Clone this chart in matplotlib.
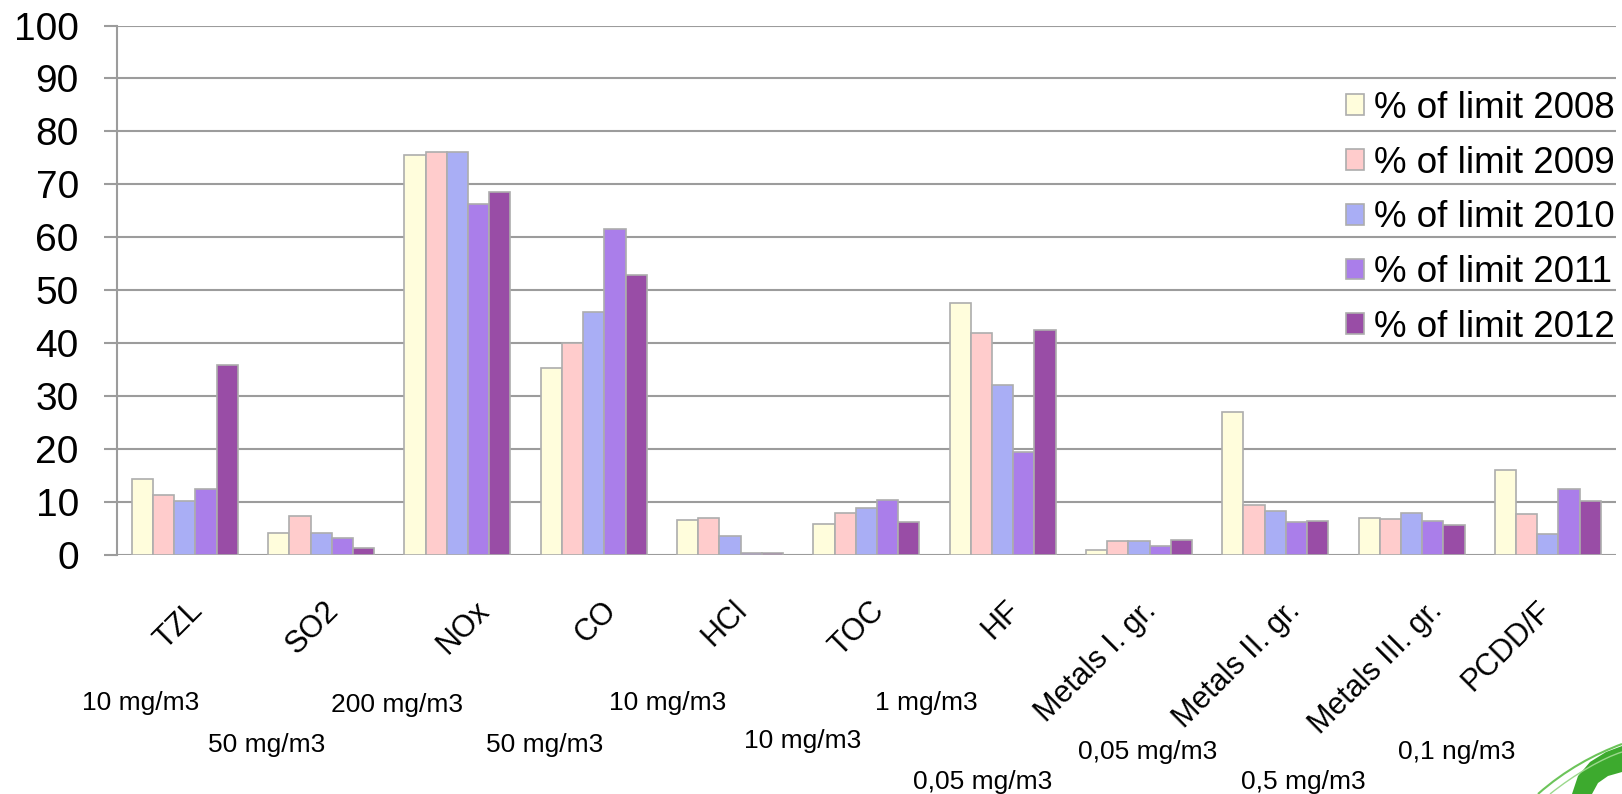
import matplotlib
matplotlib.use("Agg")
import matplotlib.pyplot as plt
import matplotlib.transforms as mtransforms
from matplotlib.patches import Polygon
from matplotlib.path import Path
from matplotlib.patches import PathPatch
import numpy as np

plt.rcParams['font.family'] = ['Liberation Sans', 'DejaVu Sans']

# ---------------- data ----------------
categories = ["TZL", "SO2", "NOx", "CO", "HCl", "TOC", "HF",
              "Metals I. gr.", "Metals II. gr.", "Metals III. gr.", "PCDD/F"]
limits = ["10 mg/m3", "50 mg/m3", "200 mg/m3", "50 mg/m3", "10 mg/m3", "10 mg/m3",
          "1 mg/m3", "0,05 mg/m3", "0,05 mg/m3", "0,5 mg/m3", "0,1 ng/m3"]
series_names = ["% of limit 2008", "% of limit 2009", "% of limit 2010",
                "% of limit 2011", "% of limit 2012"]
v2008 = [14.3, 4.2, 75.6, 35.3, 6.7, 5.9, 47.5, 0.9, 27.0, 7.0, 16.1]
v2009 = [11.3, 7.4, 76.1, 40.1, 7.0, 7.9, 42.0, 2.7, 9.5, 6.8, 7.7]
v2010 = [10.2, 4.2, 76.2, 45.9, 3.5, 8.8, 32.1, 2.7, 8.3, 7.9, 3.9]
v2011 = [12.5, 3.2, 66.2, 61.6, 0.4, 10.4, 19.5, 1.7, 6.2, 6.4, 12.5]
v2012 = [35.9, 1.4, 68.6, 52.9, 0.4, 6.3, 42.5, 2.8, 6.4, 5.7, 10.2]
series = [v2008, v2009, v2010, v2011, v2012]
yticks = [0, 10, 20, 30, 40, 50, 60, 70, 80, 90, 100]

# ---------------- style / layout ----------------
colors = ["#FFFDDC", "#FFCCCC", "#A9AEF5", "#AA7EEA", "#994DA6"]
edge = "#ADADAD"
grid_c = "#9C9C9C"
W_PX, H_PX = 1622, 794
ax_left, ax_right = 116.7, 1616.0
ax_top, ax_bottom = 25.5, 555.0

fig = plt.figure(figsize=(W_PX / 100, H_PX / 100), dpi=100)
ax = fig.add_axes([ax_left / W_PX, 1 - ax_bottom / H_PX,
                   (ax_right - ax_left) / W_PX, (ax_bottom - ax_top) / H_PX])

n = len(categories)
x = np.arange(n)
bw = 0.1556
handles = []
for j, (vals, col, name) in enumerate(zip(series, colors, series_names)):
    b = ax.bar(x + (j - 2) * bw, vals, width=bw, color=col, edgecolor=edge,
               linewidth=1.2, zorder=3, label=name)
    handles.append(b)

ax.set_xlim(-0.5, n - 0.5)
ax.set_ylim(0, 100)
ax.set_yticks(yticks)
ax.set_yticklabels([str(t) for t in yticks], fontsize=28)
ax.yaxis.grid(True, color=grid_c, linewidth=1.5, zorder=0)
ax.set_axisbelow(True)
ax.tick_params(axis='y', length=9.3, width=1.5, color=grid_c, pad=18)
ax.tick_params(axis='x', length=0, labelbottom=False)
for s in ["top", "right", "bottom"]:
    ax.spines[s].set_visible(False)
ax.spines["left"].set_color(grid_c)
ax.spines["left"].set_linewidth(1.5)

# category labels (rotated); small per-label pixel nudges
label_dx_px = [0, 0, 15, 5, 0, 0, 0, 0, 7, 13, -14]
trans = mtransforms.blended_transform_factory(ax.transData, fig.transFigure)
for i, (c, dpx) in enumerate(zip(categories, label_dx_px)):
    t = trans + mtransforms.ScaledTranslation(dpx / 100, 0, fig.dpi_scale_trans)
    ax.text(i + 0.095, 1 - 606 / H_PX, c, transform=t, rotation=45,
            ha='right', va='center', rotation_mode='anchor', fontsize=22,
            clip_on=False)

# limit labels below
limit_pos = [(141, 703), (267, 745), (397, 705), (545, 745), (668, 703),
             (803, 741), (926, 703), (983, 782), (1148, 752), (1303, 782),
             (1457, 752)]
for txt, (px, py) in zip(limits, limit_pos):
    fig.text(px / W_PX, 1 - py / H_PX, txt, ha='center', va='center', fontsize=19)

# legend
leg = ax.legend(handles=handles, labels=series_names, loc='upper left',
                bbox_to_anchor=(1346 / W_PX, 1 - 91 / H_PX),
                bbox_transform=fig.transFigure, frameon=False, fontsize=26.5,
                handlelength=0.5, handleheight=0.5, handletextpad=0.27,
                labelspacing=0.535, borderpad=0, borderaxespad=0)

# green logo fragment bottom-right
def px2fig(pts):
    return [(px / W_PX, 1 - py / H_PX) for px, py in pts]

logo = Polygon(px2fig([(1572, 794), (1578, 776), (1590, 762), (1606, 752),
                       (1622, 746), (1622, 772), (1608, 776), (1598, 783),
                       (1592, 794)]),
               closed=True, facecolor="#3DAA2E", edgecolor="none",
               transform=fig.transFigure)
fig.patches.append(logo)
verts = px2fig([(1538, 794), (1565, 770), (1595, 754), (1622, 744)])
p = Path(verts, [Path.MOVETO, Path.CURVE4, Path.CURVE4, Path.CURVE4])
fig.patches.append(PathPatch(p, facecolor='none', edgecolor="#6CC45A",
                             linewidth=1.5, transform=fig.transFigure))
verts2 = px2fig([(1550, 794), (1575, 774), (1603, 758), (1622, 752)])
p2 = Path(verts2, [Path.MOVETO, Path.CURVE4, Path.CURVE4, Path.CURVE4])
fig.patches.append(PathPatch(p2, facecolor='none', edgecolor="#9BD88C",
                             linewidth=1.0, transform=fig.transFigure))

fig.savefig("out.png", dpi=100)
